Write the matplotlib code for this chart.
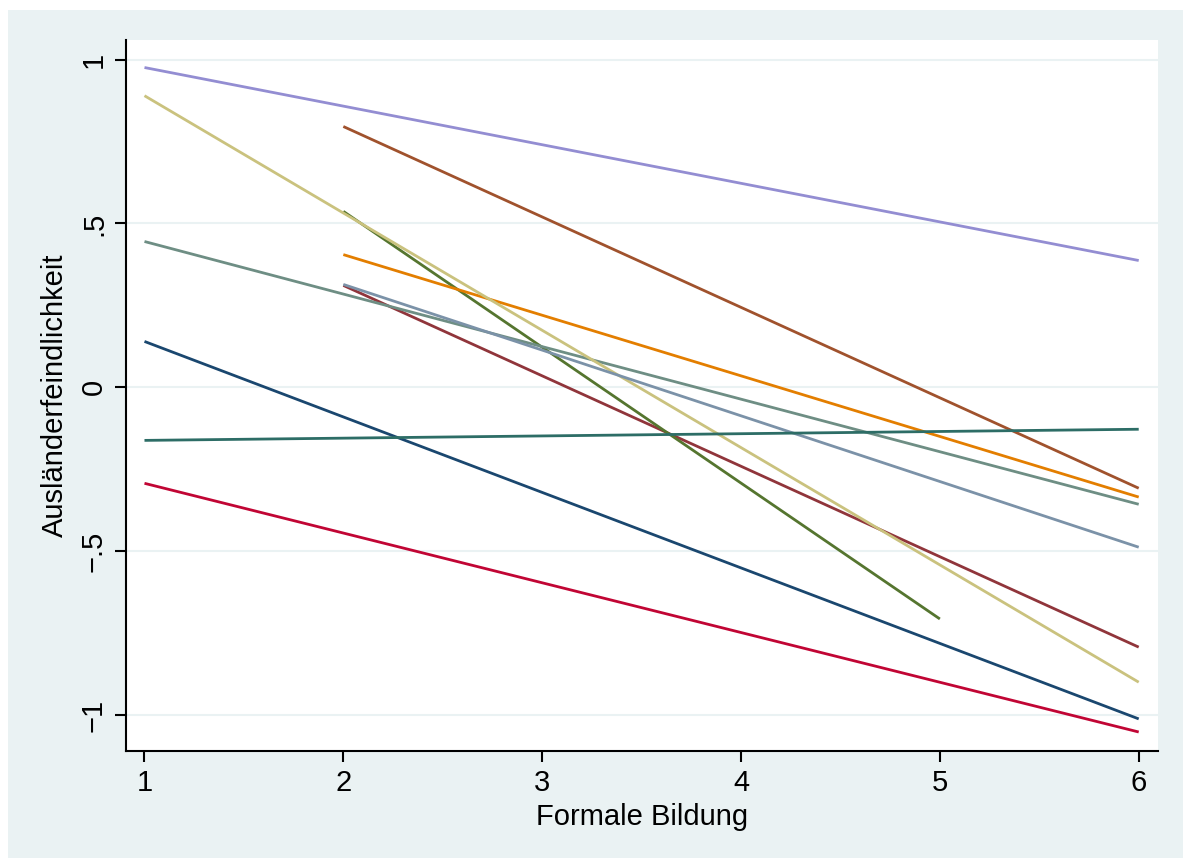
import matplotlib.pyplot as plt
from matplotlib.patches import Rectangle

plt.rcParams['font.family'] = ['Liberation Sans', 'DejaVu Sans']

# start / end points of each fitted line (Formale Bildung -> Ausländerfeindlichkeit)
x_start = [1, 2, 2, 2, 1, 1, 1, 1, 2, 2, 1]
x_end = [6, 6, 5, 6, 6, 6, 6, 6, 6, 6, 6]
y_start = [0.140, 0.311, 0.537, 0.405, 0.445, -0.293, 0.976, 0.890, 0.796, 0.314, -0.162]
y_end = [-1.012, -0.793, -0.707, -0.335, -0.357, -1.052, 0.387, -0.900, -0.308, -0.488, -0.128]
colors = ["#1a476f", "#90353b", "#55752f", "#e37e00", "#6e8e84", "#c10534",
          "#938dd2", "#cac27e", "#a0522d", "#7b92a8", "#2d6d66"]

y_ticks = [-1, -0.5, 0, 0.5, 1]
y_labels = ["\u22121", "\u2212.5", "0", ".5", "1"]
x_ticks = [1, 2, 3, 4, 5, 6]

fig = plt.figure(figsize=(11.83, 8.58), dpi=100)
fig.patch.set_facecolor("white")
fig.add_artist(Rectangle((8 / 1183, 0), 1, 1 - 10 / 858, transform=fig.transFigure,
                         facecolor="#eaf2f3", edgecolor="none", zorder=-10))

ax = fig.add_axes([126 / 1183, 1 - 751 / 858, (1158 - 126) / 1183, (751 - 40) / 858])
ax.set_facecolor("white")

for xs, xe, ys, ye, c in zip(x_start, x_end, y_start, y_end, colors):
    ax.plot([xs, xe], [ys, ye], color=c, lw=2, solid_capstyle="butt")

ax.set_xlim(0.907, 6.097)
ax.set_ylim(-1.11, 1.06)
ax.set_yticks(y_ticks)
ax.set_yticklabels(y_labels, rotation=90, va="center")
ax.set_xticks(x_ticks)
ax.grid(axis="y", color="#eaf2f3", lw=1.5)
ax.set_axisbelow(True)

for s in ["top", "right"]:
    ax.spines[s].set_visible(False)
for s in ["left", "bottom"]:
    ax.spines[s].set_linewidth(1.5)
ax.tick_params(labelsize=21, width=1.5, length=8, pad=5)

ax.set_xlabel("Formale Bildung", fontsize=21, labelpad=4)
ax.set_ylabel("Ausländerfeindlichkeit", fontsize=21, labelpad=8)

fig.savefig("out.png", dpi=100)
